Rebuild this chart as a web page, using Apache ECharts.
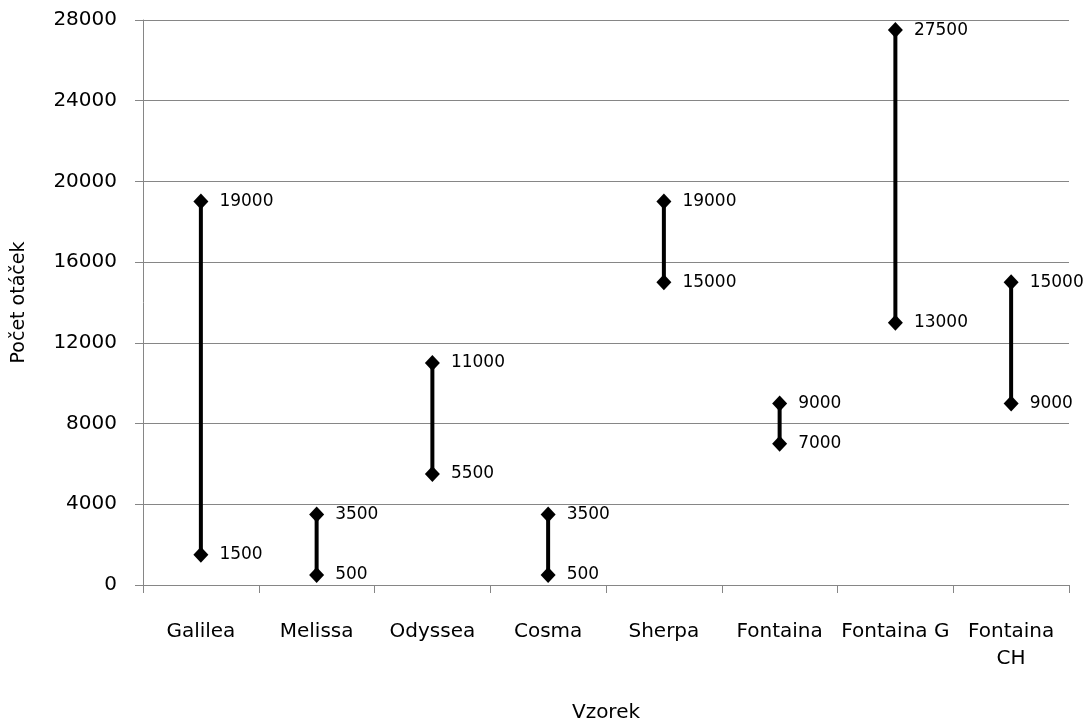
<!DOCTYPE html>
<html>
<head>
<meta charset="utf-8">
<script src="https://cdn.jsdelivr.net/npm/echarts@6/dist/echarts.min.js"></script>
<style>html,body{margin:0;padding:0;background:#fff;}#chart{width:1092px;height:722px;}</style>
</head>
<body>
<div id="chart"></div>
<script>
const categories = ['Galilea', 'Melissa', 'Odyssea', 'Cosma', 'Sherpa', 'Fontaina', 'Fontaina G', 'Fontaina\nCH'];
const highValues = [19000, 3500, 11000, 3500, 19000, 9000, 27500, 15000];
const lowValues = [1500, 500, 5500, 500, 15000, 7000, 13000, 9000];
const yTicks = { min: 0, max: 28000, interval: 4000 };

const FONT = 'DejaVu Sans';
const gray = '#868686';
const chart = echarts.init(document.getElementById('chart'), null, { renderer: 'canvas' });

const rangeData = categories.map((c, i) => [i, lowValues[i], highValues[i]]);

const labelCfg = {
  show: true, position: 'right', distance: 11,
  color: '#000', fontFamily: FONT, fontSize: 17,
  formatter: p => String(p.value)
};

chart.setOption({
  animation: false,
  backgroundColor: '#fff',
  grid: { left: 143, right: 23, top: 20, bottom: 137, containLabel: false, outerBoundsMode: 'none' },
  xAxis: {
    type: 'category',
    data: categories,
    boundaryGap: true,
    name: 'Vzorek',
    nameLocation: 'middle',
    nameGap: 118,
    nameTextStyle: { color: '#000', fontFamily: FONT, fontSize: 20 },
    axisLine: { show: true, lineStyle: { color: gray, width: 1 } },
    axisTick: { show: true, length: 8, alignWithLabel: false, lineStyle: { color: gray } },
    axisLabel: { color: '#000', fontFamily: FONT, fontSize: 20, margin: 33, lineHeight: 27, interval: 0 },
    splitLine: { show: false }
  },
  yAxis: {
    type: 'value',
    min: yTicks.min, max: yTicks.max, interval: yTicks.interval,
    name: 'Počet otáček',
    nameLocation: 'middle',
    nameGap: 114,
    nameRotate: 90,
    nameTextStyle: { color: '#000', fontFamily: FONT, fontSize: 19 },
    axisLine: { show: true, lineStyle: { color: gray, width: 1 } },
    axisTick: { show: true, length: 8, lineStyle: { color: gray } },
    axisLabel: { color: '#000', fontFamily: FONT, fontSize: 20, margin: 26, formatter: v => String(v) },
    splitLine: { show: true, lineStyle: { color: gray, width: 1 } }
  },
  series: [
    {
      type: 'custom',
      data: rangeData,
      encode: { x: 0, y: [1, 2] },
      renderItem: function (params, api) {
        const lo = api.coord([api.value(0), api.value(1)]);
        const hi = api.coord([api.value(0), api.value(2)]);
        return {
          type: 'line',
          shape: { x1: lo[0], y1: lo[1], x2: hi[0], y2: hi[1] },
          style: { stroke: '#000', lineWidth: 4 }
        };
      },
      z: 2
    },
    {
      type: 'scatter', data: highValues, symbol: 'diamond', symbolSize: [15, 16],
      itemStyle: { color: '#000', opacity: 1 }, label: labelCfg, z: 3
    },
    {
      type: 'scatter', data: lowValues, symbol: 'diamond', symbolSize: [15, 16],
      itemStyle: { color: '#000', opacity: 1 }, label: labelCfg, z: 3
    }
  ]
});
</script>
</body>
</html>
